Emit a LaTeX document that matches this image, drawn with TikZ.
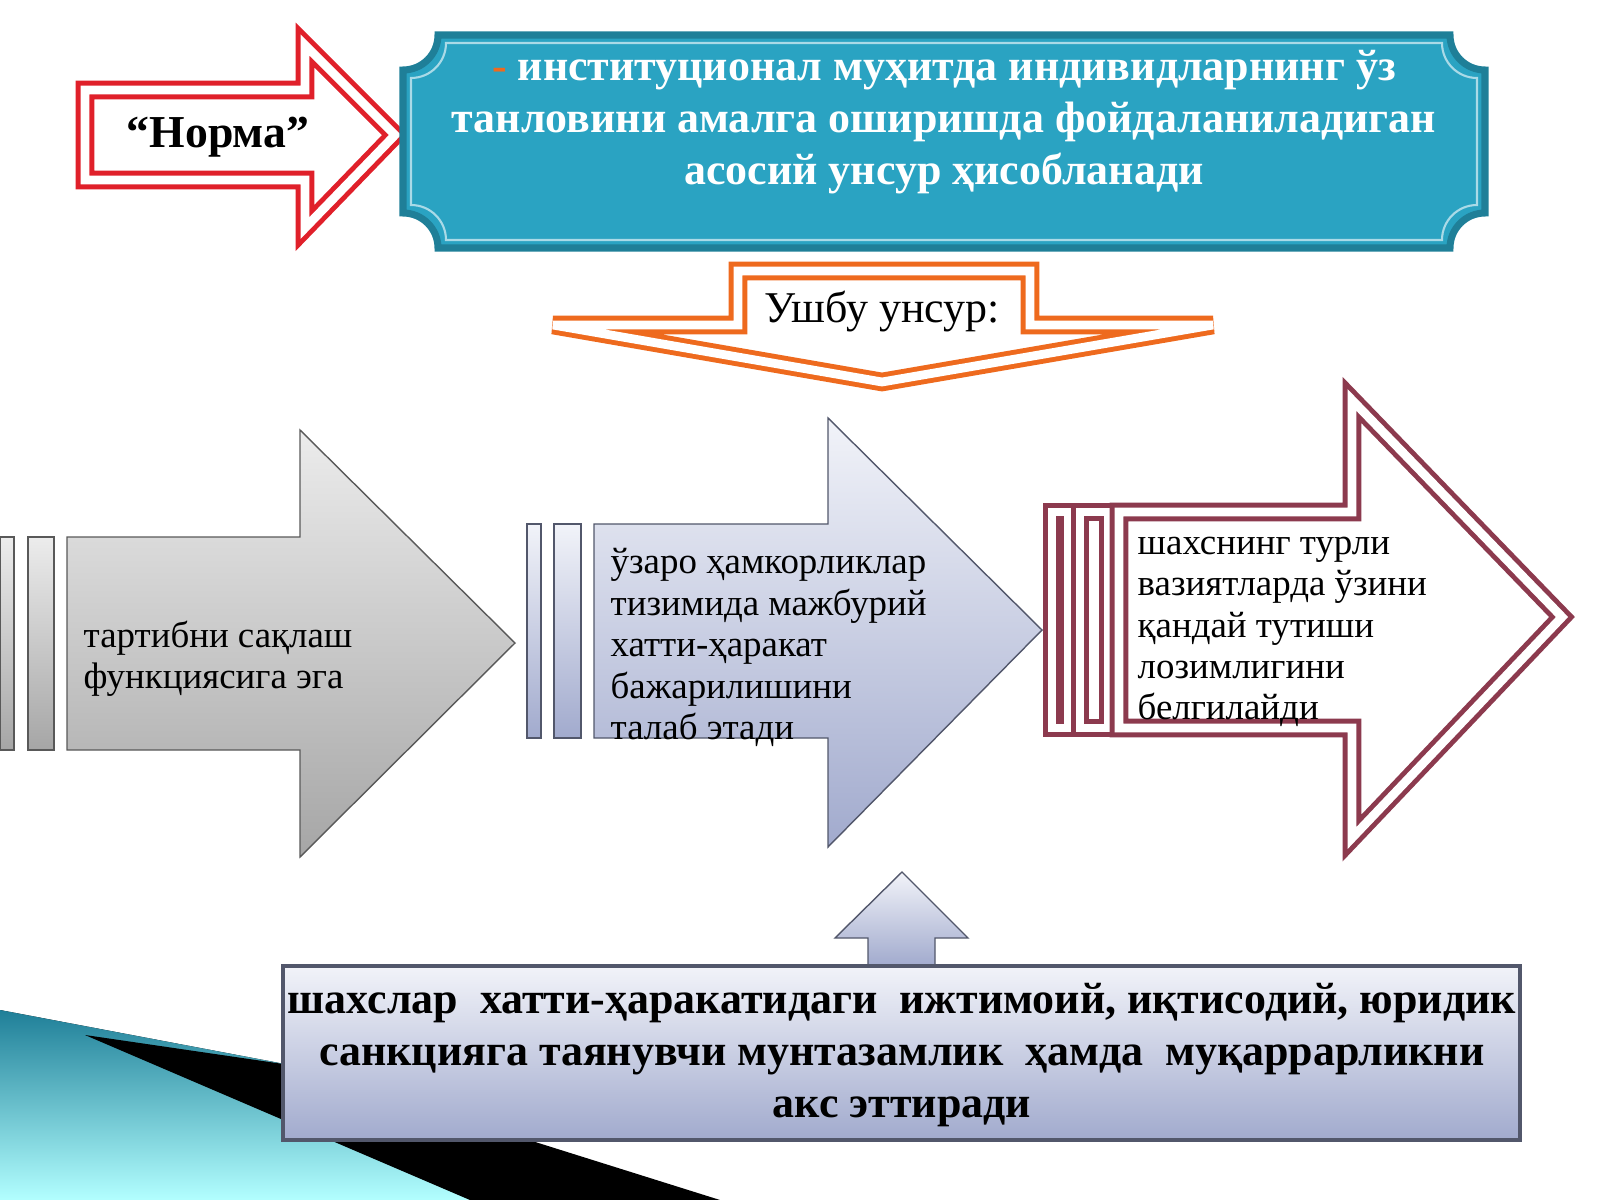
\documentclass[tikz,border=0pt]{standalone}
\usepackage{fontspec}
\setmainfont{Liberation Serif}
\usetikzlibrary{positioning}
\definecolor{tealbox}{HTML}{2AA3C2}
\definecolor{tealedge}{HTML}{1F7F98}
\definecolor{redarrow}{HTML}{E0202A}
\definecolor{orangearrow}{HTML}{EE6A1E}
\definecolor{maroon}{HTML}{8C3A4E}
\definecolor{lavender}{HTML}{A5AFD6}
\begin{document}
\begin{tikzpicture}[x=0.1mm, y=-0.1mm,
  label/.style = {align=left, anchor=north west, font=\fontsize{10.5}{11.8}\selectfont, inner sep=0pt},
  bold/.style = {align=center, font=\bfseries\fontsize{12.5}{14.8}\selectfont, inner sep=0pt},
  grayfill/.style = {draw=gray!70!black, top color=gray!15, bottom color=gray!70},
  lavfill/.style = {draw=lavender!50!black, top color=white!85!lavender, bottom color=lavender!90!gray},
  outline/.style = {draw=#1, double=white, double distance=2.5pt, line width=1.4pt}
]
\useasboundingbox (0,0) rectangle (1600,1200);

% Corner swoosh
\fill[top color=tealedge, bottom color=cyan!30!white] (0,1010) -- (290,1065) -- (470,1200) -- (0,1200) -- cycle;
\fill[black] (85,1035) -- (290,1065) -- (720,1200) -- (470,1200) -- cycle;

% Norma arrow and definition box
\draw[outline=redarrow] (85,90) -- (305,90) -- (305,45) -- (395,135) -- (305,228) -- (305,180) -- (85,180) -- cycle;
\node[font=\bfseries\fontsize{13}{15}\selectfont] at (218,137) (norma) {“Норма”};
\draw[fill=tealbox, draw=tealedge, line width=2pt]
  (438,35) -- (1450,35) arc[start angle=180, end angle=90, radius=35] -- (1485,213)
  arc[start angle=270, end angle=180, radius=35] -- (438,248) arc[start angle=0, end angle=-90, radius=35]
  -- (403,70) arc[start angle=90, end angle=0, radius=35] -- cycle;
\draw[white!60!tealbox, line width=0.6pt]
  (446,43) -- (1442,43) arc[start angle=180, end angle=90, radius=35] -- (1477,205)
  arc[start angle=270, end angle=180, radius=35] -- (446,240) arc[start angle=0, end angle=-90, radius=35]
  -- (411,78) arc[start angle=90, end angle=0, radius=35] -- cycle;
\node[bold, text=white] at (944,122) (definition)
  {{\color{orangearrow}-} институционал муҳитда индивидларнинг ўз\\танловини амалга оширишда фойдаланиладиган\\асосий унсур ҳисобланади};

% Down arrow
\draw[outline=orangearrow] (738,271) -- (1030,271) -- (1030,325) -- (1213,325) -- (882,382) -- (553,325) -- (738,325) -- cycle;
\node[font=\fontsize{12.5}{14}\selectfont] at (882,312) (unsur) {Ушбу унсур:};

% First arrow
\draw[grayfill] (0,537) rectangle (14,750);
\draw[grayfill] (28,537) rectangle (54,750);
\draw[grayfill] (67,537) -- (300,537) -- (300,430) -- (515,643) -- (300,857) -- (300,750) -- (67,750) -- cycle;
\node[label] at (83,620) (order) {тартибни сақлаш\\функциясига эга};

% Second arrow
\draw[lavfill] (527,524) rectangle (541,738);
\draw[lavfill] (554,524) rectangle (581,738);
\draw[lavfill] (594,524) -- (828,524) -- (828,418) -- (1042,630) -- (828,847) -- (828,738) -- (594,738) -- cycle;
\node[label] at (610,548) (cooperation) {ўзаро ҳамкорликлар\\тизимида мажбурий\\хатти-ҳаракат\\бажарилишини\\талаб этади};

% Third arrow
\draw[outline=maroon] (1052,512) rectangle (1068,728);
\draw[outline=maroon] (1080,512) rectangle (1108,728);
\draw[outline=maroon] (1119,512) -- (1352,512) -- (1352,400) -- (1562,617) -- (1352,838) -- (1352,728) -- (1119,728) -- cycle;
\node[label] at (1137,536) (behaviour) {шахснинг турли\\вазиятларда ўзини\\қандай тутиши\\лозимлигини\\белгилайди};

% Bottom box with up arrow
\draw[lavfill] (868,966) -- (868,938) -- (835,938) -- (902,872) -- (968,938) -- (935,938) -- (935,966) -- cycle;
\draw[lavfill, line width=1pt] (283,966) rectangle (1520,1140);
\node[bold] at (902,1055) (sanction)
  {шахслар\ \ хатти-ҳаракатидаги\ \ ижтимоий, иқтисодий, юридик\\санкцияга таянувчи мунтазамлик\ \ ҳамда\ \ муқаррарликни\\акс эттиради};
\end{tikzpicture}
\end{document}
